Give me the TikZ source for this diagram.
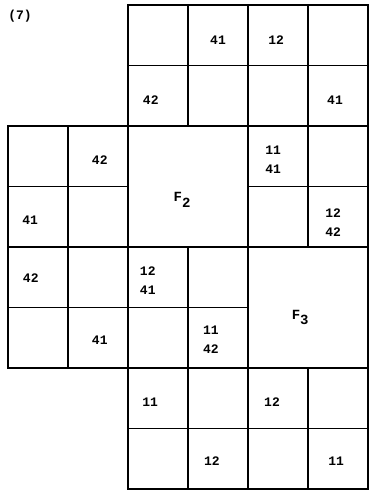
\documentclass[tikz,border=0pt]{standalone}
\usepackage{fontspec}
\setmonofont{Liberation Mono}

\begin{document}
\begin{tikzpicture}[x=60pt, y=-60.5pt, line width=1.2pt,
    num/.style={font=\ttfamily\bfseries\fontsize{13}{19}\selectfont, align=center, inner sep=0pt},
    face/.style={font=\ttfamily\bfseries\fontsize{14}{15}\selectfont, inner sep=0pt}]
  \useasboundingbox (-0.1333,-0.0826) rectangle (6.0167,8.0496);

  % Figure number
  \node[font=\ttfamily\bfseries\fontsize{13}{15}\selectfont, inner sep=0pt] (tag) at (0.2,0.18) {(7)};

  % Top and bottom blocks of small squares
  \foreach \r in {0,1,6,7}
    \foreach \c in {2,...,5}
      \draw (\c,\r) rectangle ++(1,1);

  % Middle rows
  \foreach \r in {2,3}
    \foreach \c in {0,1,4,5}
      \draw (\c,\r) rectangle ++(1,1);
  \foreach \r in {4,5}
    \foreach \c in {0,...,3}
      \draw (\c,\r) rectangle ++(1,1);

  % Faces F2 and F3
  \draw (2,2) rectangle (4,4);
  \draw (4,4) rectangle (6,6);
  \node[face] (f2) at (2.9,3.22) {F\raisebox{-0.7ex}{2}};
  \node[face] (f3) at (4.87,5.17) {F\raisebox{-0.7ex}{3}};

  % Cell labels
  \node[num] (n03) at (3.5,0.58) {41};
  \node[num] (n04) at (4.47,0.58) {12};
  \node[num] (n12) at (2.38,1.57) {42};
  \node[num] (n15) at (5.45,1.57) {41};
  \node[num] (n21) at (1.53,2.56) {42};
  \node[num] (n24) at (4.42,2.56) {11\\41};
  \node[num] (n30) at (0.37,3.55) {41};
  \node[num] (n35) at (5.42,3.59) {12\\42};
  \node[num] (n40) at (0.38,4.51) {42};
  \node[num] (n42) at (2.33,4.55) {12\\41};
  \node[num] (n51) at (1.53,5.54) {41};
  \node[num] (n53) at (3.38,5.54) {11\\42};
  \node[num] (n62) at (2.37,6.56) {11};
  \node[num] (n64) at (4.4,6.56) {12};
  \node[num] (n73) at (3.4,7.54) {12};
  \node[num] (n75) at (5.47,7.54) {11};
\end{tikzpicture}
\end{document}
